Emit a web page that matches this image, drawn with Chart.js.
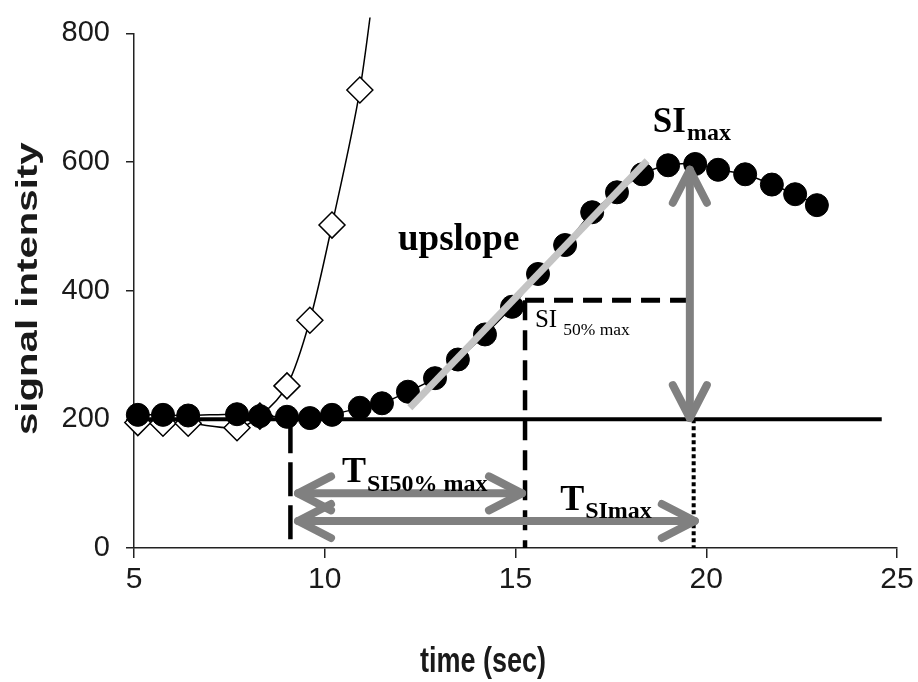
<!DOCTYPE html>
<html>
<head>
<meta charset="utf-8">
<title>signal intensity curve</title>
<script src="https://cdn.jsdelivr.net/npm/chart.js@4.4.1/dist/chart.umd.min.js"></script>
<style>
  html, body { margin: 0; padding: 0; background: #fff; }
</style>
</head>
<body>
<canvas id="canvas" width="918" height="682"></canvas>
<script>
// time points (sec)
var timeSec = [5.10, 5.76, 6.42, 7.70, 8.30, 9.01, 9.61, 10.19, 10.92, 11.50, 12.18, 12.89, 13.49, 14.20,
               14.91, 15.59, 16.30, 17.01, 17.66, 18.32, 19.00, 19.71, 20.31, 21.02, 21.72, 22.33, 22.90];
// tissue curve (filled circles)
var tissueSI = [207, 207, 206, 208, 205, 204, 202, 207, 218, 225, 243, 264, 293, 332,
                375, 426, 471, 522, 553, 581, 595, 597, 588, 581, 565, 550, 533];
// input curve (open diamonds), runs off the top after ~11 s
var inputTime = timeSec.slice(0, 10);
var inputSI = [195, 194, 194, 187, 205, 252, 354, 502, 712, 975];

var xTicks = [5, 10, 15, 20, 25];
var yTicks = [0, 200, 400, 600, 800];

// marker values
var baseSI = 200, halfSI = 385, peakSI = 590;
var onsetT = 9.1, halfT = 15.25, peakT = 19.62;
var upslopeFrom = [12.23, 218], upslopeTo = [18.45, 602];

var xTitle = 'time (sec)';
var yTitle = 'signal intensity';

function points(xs, ys) {
  return xs.map(function (x, i) { return { x: x, y: ys[i] }; });
}

// lines, arrows and labels on top of the curves
var markup = {
  id: 'markup',
  afterDatasetsDraw: function (chart) {
    var ctx = chart.ctx;
    var sx = chart.scales.x, sy = chart.scales.y;
    var X = function (v) { return sx.getPixelForValue(v); };
    var Y = function (v) { return sy.getPixelForValue(v); };

    function seg(x1, y1, x2, y2, color, width, dash) {
      ctx.save();
      ctx.strokeStyle = color;
      ctx.lineWidth = width;
      ctx.setLineDash(dash || []);
      ctx.beginPath();
      ctx.moveTo(X(x1), Y(y1));
      ctx.lineTo(X(x2), Y(y2));
      ctx.stroke();
      ctx.restore();
    }

    function arrow(x1, y1, x2, y2) {
      var a = X(x1), b = Y(y1), c = X(x2), d = Y(y2);
      var len = Math.hypot(c - a, d - b), ux = (c - a) / len, uy = (d - b) / len;
      ctx.save();
      ctx.strokeStyle = '#808080';
      ctx.lineWidth = 8;
      ctx.lineCap = 'round';
      ctx.lineJoin = 'round';
      ctx.beginPath();
      ctx.moveTo(a, b);
      ctx.lineTo(c, d);
      ctx.stroke();
      [[a, b, ux, uy], [c, d, -ux, -uy]].forEach(function (h) {
        var bx = h[0] + h[2] * 33, by = h[1] + h[3] * 33;
        ctx.beginPath();
        ctx.moveTo(bx - h[3] * 17, by + h[2] * 17);
        ctx.lineTo(h[0], h[1]);
        ctx.lineTo(bx + h[3] * 17, by - h[2] * 17);
        ctx.stroke();
      });
      ctx.restore();
    }

    function text(t, x, y, font, sub, subFont, gap, dy) {
      ctx.save();
      ctx.fillStyle = '#000';
      ctx.textBaseline = 'alphabetic';
      ctx.font = font;
      ctx.fillText(t, X(x), Y(y));
      if (sub) {
        var w = ctx.measureText(t).width;
        ctx.font = subFont;
        ctx.fillText(sub, X(x) + w + gap, Y(y) + dy);
      }
      ctx.restore();
    }

    // baseline
    seg(5, baseSI, 24.6, baseSI, '#000', 4);
    // onset, 50% and peak guides
    seg(onsetT, baseSI, onsetT, 0, '#000', 4.5, [34, 9]);
    seg(halfT, halfSI, halfT, 0, '#000', 4.5, [20, 10]);
    seg(halfT, halfSI, peakT + 0.05, halfSI, '#000', 5, [19, 10]);
    seg(peakT + 0.05, baseSI, peakT + 0.05, 0, '#000', 4, [4, 3]);
    // upslope fit
    seg(upslopeFrom[0], upslopeFrom[1], upslopeTo[0], upslopeTo[1], '#c4c4c4', 7);

    // arrows
    arrow(peakT - 0.05, peakSI - 2, peakT - 0.05, baseSI + 2);
    arrow(9.3, 85, 15.17, 85);
    arrow(9.3, 42, 19.7, 42);

    var f = function (s, bold) {
      return (bold ? 'bold ' : '') + s + 'px "Liberation Serif", "Times New Roman", serif';
    };
    text('upslope', 11.92, 463, f(37, true));
    text('SI', 18.60, 646, f(35, true), 'max', f(24, true), 1, 8);
    text('SI', 15.51, 344, f(25, false), '50% max', f(17.5, false), 6, 8);
    text('T', 10.45, 102, f(36, true), 'SI50% max', f(24, true), 1, 9);
    text('T', 16.17, 59, f(36, true), 'SImax', f(24, true), 1, 8);
  },
  // axis titles, slightly stretched like the original figure
  afterDraw: function (chart) {
    var ctx = chart.ctx, area = chart.chartArea;
    var sx = chart.scales.x;
    ctx.save();
    ctx.fillStyle = '#1a1a1a';
    ctx.textAlign = 'center';
    ctx.textBaseline = 'middle';
    ctx.font = 'bold 27px "Liberation Sans", Arial, sans-serif';
    ctx.translate(sx.getPixelForValue(14.15), area.bottom + 114);
    ctx.scale(1, 1.3);
    ctx.fillText(xTitle, 0, 0);
    ctx.restore();

    ctx.save();
    ctx.fillStyle = '#1a1a1a';
    ctx.textAlign = 'center';
    ctx.textBaseline = 'middle';
    ctx.font = 'bold 30px "Liberation Sans", Arial, sans-serif';
    ctx.translate(area.left - 105, (area.top + area.bottom) / 2 - 2);
    ctx.rotate(-Math.PI / 2);
    ctx.scale(1.34, 1);
    ctx.fillText(yTitle, 0, 0);
    ctx.restore();
  }
};

var ctx = document.getElementById('canvas');

var chart = new Chart(ctx, {
  type: 'line',
  data: {
    datasets: [
      {
        label: 'tissue',
        data: points(timeSec, tissueSI),
        borderColor: '#000',
        borderWidth: 1.5,
        backgroundColor: '#000',
        pointStyle: 'circle',
        pointRadius: 11.5,
        pointBackgroundColor: '#000',
        pointBorderColor: '#000',
        pointBorderWidth: 1,
        tension: 0.3,
        clip: { left: 16, top: 0, right: 0, bottom: 0 }
      },
      {
        label: 'input',
        data: points(inputTime, inputSI),
        borderColor: '#000',
        borderWidth: 1.5,
        pointStyle: 'rectRot',
        pointRadius: 13,
        pointBackgroundColor: '#fff',
        pointBorderColor: '#000',
        pointBorderWidth: 1.5,
        tension: 0.3,
        clip: { left: 16, top: 16, right: 0, bottom: 0 }
      }
    ]
  },
  options: {
    responsive: false,
    animation: false,
    layout: { padding: { left: 0, top: 30, right: 21, bottom: 0 } },
    plugins: {
      legend: { display: false },
      tooltip: { enabled: false }
    },
    scales: {
      x: {
        type: 'linear',
        min: 5,
        max: 25,
        afterFit: function (s) { s.height = 134; },
        afterBuildTicks: function (s) { s.ticks = xTicks.map(function (v) { return { value: v }; }); },
        border: { display: true, color: '#222', width: 1.5 },
        grid: { drawOnChartArea: false, drawTicks: true, tickLength: 10, color: '#222', lineWidth: 1.5 },
        ticks: {
          autoSkip: false,
          maxRotation: 0,
          padding: 4,
          color: '#1a1a1a',
          font: { family: '"Liberation Sans", Arial, sans-serif', size: 30 }
        }
      },
      y: {
        type: 'linear',
        min: 0,
        max: 800,
        afterFit: function (s) { s.width = 134; },
        afterBuildTicks: function (s) { s.ticks = yTicks.map(function (v) { return { value: v }; }); },
        border: { display: true, color: '#222', width: 1.5 },
        grid: { drawOnChartArea: false, drawTicks: true, tickLength: 8, color: '#222', lineWidth: 1.5 },
        ticks: {
          padding: 16,
          color: '#1a1a1a',
          font: { family: '"Liberation Sans", Arial, sans-serif', size: 29 }
        }
      }
    }
  },
  plugins: [markup]
});
</script>
</body>
</html>
